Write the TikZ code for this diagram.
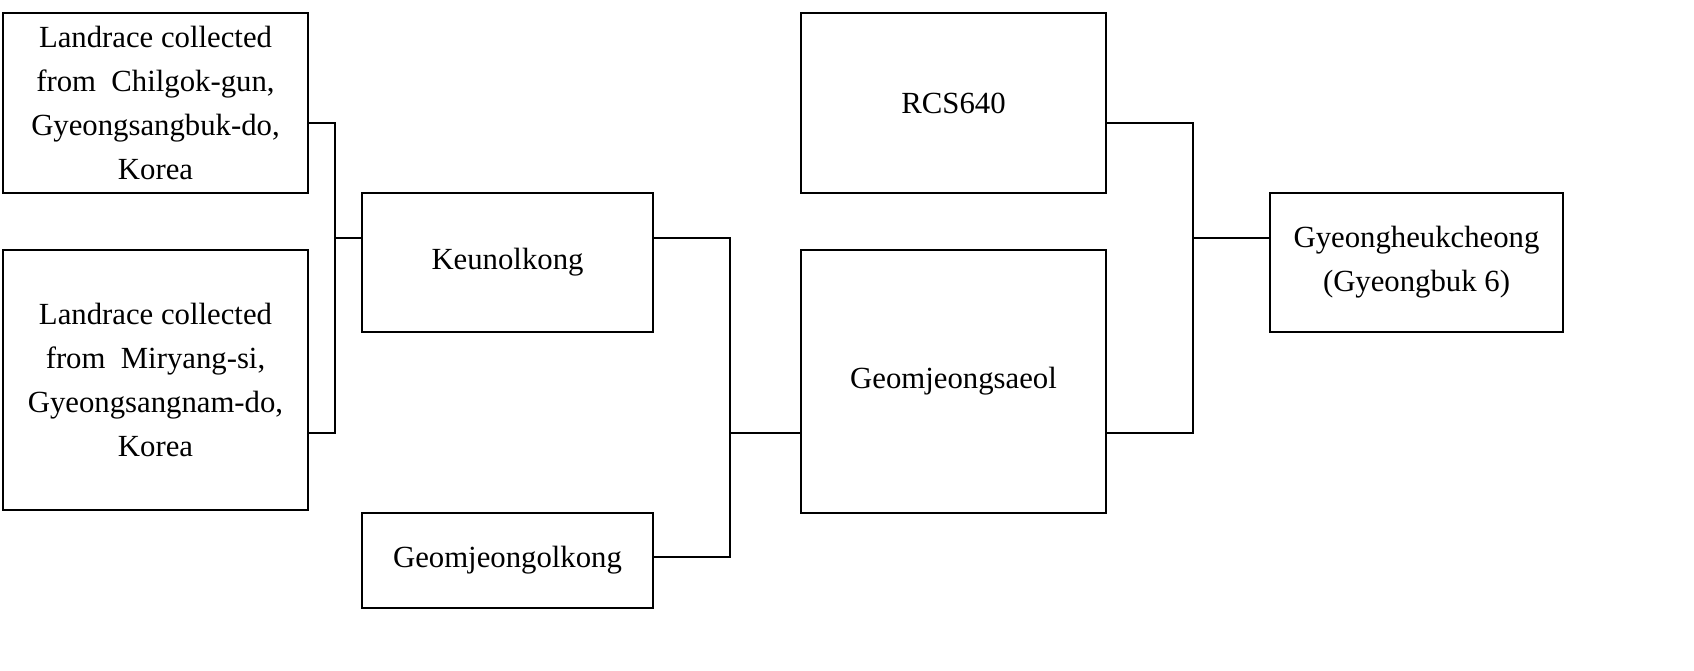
\documentclass[tikz,border=0pt]{standalone}
\usepackage{fontspec}
\setmainfont{Liberation Serif}
\begin{document}
\begin{tikzpicture}[x=0.02cm,y=-0.02cm,
  box/.style={draw, thick, align=center, inner sep=2pt,
    font=\fontsize{17.5}{25}\selectfont}]
\useasboundingbox (0,0) rectangle (1694,670);
\node (lc) at (155.5,103) [box, minimum width=6.1cm, minimum height=3.6cm] {Landrace collected\\from\ \ Chilgok-gun,\\Gyeongsangbuk-do,\\Korea};
\node (lm) at (155.5,380) [box, minimum width=6.1cm, minimum height=5.2cm] {Landrace collected\\from\ \ Miryang-si,\\Gyeongsangnam-do,\\Korea};
\node (ku) at (507.5,262.5) [box, minimum width=5.82cm, minimum height=2.78cm] {Keunolkong};
\node (go) at (507.5,560.5) [box, minimum width=5.82cm, minimum height=1.9cm] {Geomjeongolkong};
\node (rc) at (953.5,103) [box, minimum width=6.1cm, minimum height=3.6cm] {RCS640};
\node (gs) at (953.5,381.5) [box, minimum width=6.1cm, minimum height=5.26cm] {Geomjeongsaeol};
\node (gh) at (1416.5,262.5) [box, minimum width=5.86cm, minimum height=2.78cm] {Gyeongheukcheong\\(Gyeongbuk 6)};

\coordinate (j1) at (335,238);
\coordinate (j2) at (730,433);
\coordinate (j3) at (1193,238);

\draw[thick]
(lc.east |- 0,123) -| (j1) -- (j1 -| ku.west)
(lm.east |- 0,433) -| (j1)
(ku.east |- 0,238) -| (j2) -- (j2 -| gs.west)
(go.east |- 0,557) -| (j2)
(rc.east |- 0,123) -| (j3) -- (j3 -| gh.west)
(gs.east |- 0,433) -| (j3);
\end{tikzpicture}
\end{document}
